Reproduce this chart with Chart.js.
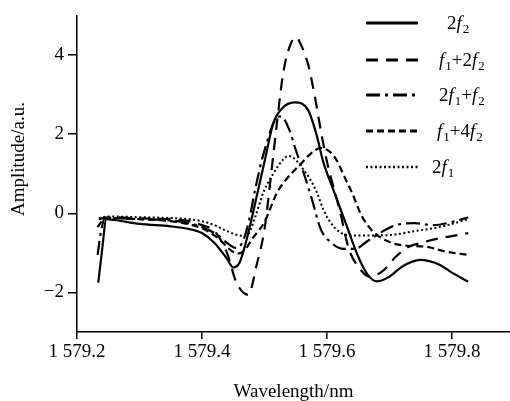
<!DOCTYPE html>
<html>
<head>
<meta charset="utf-8">
<script src="https://cdn.jsdelivr.net/npm/chart.js@4/dist/chart.umd.min.js"></script>
<style>
  html, body { margin: 0; padding: 0; background: #fff; }
  #wrap { width: 510px; height: 401px; }
</style>
</head>
<body>
<div id="wrap"><canvas id="chart" width="510" height="401"></canvas></div>
<script>
// tick labels
const xTicks = [1579.2, 1579.4, 1579.6, 1579.8];
const yTicks = [-2, 0, 2, 4];

// 2f2 (solid)
const wl2f2 = [1579.234, 1579.240, 1579.247, 1579.26, 1579.30, 1579.35, 1579.38, 1579.40, 1579.42, 1579.44, 1579.45, 1579.46, 1579.47, 1579.48, 1579.49, 1579.50, 1579.514, 1579.528, 1579.549, 1579.57, 1579.583, 1579.594, 1579.61, 1579.63, 1579.65, 1579.665, 1579.68, 1579.70, 1579.72, 1579.749, 1579.78, 1579.80, 1579.826];
const amp2f2 = [-1.75, -0.95, -0.15, -0.17, -0.27, -0.33, -0.40, -0.50, -0.75, -1.15, -1.37, -1.25, -0.75, -0.1, 0.6, 1.3, 2.27, 2.65, 2.8, 2.6, 2.0, 1.3, 0.6, -0.25, -1.1, -1.55, -1.72, -1.6, -1.35, -1.18, -1.3, -1.5, -1.73];

// f1+2f2 (long dash)
const wlF1p2f2 = [1579.235, 1579.25, 1579.30, 1579.35, 1579.38, 1579.40, 1579.42, 1579.44, 1579.455, 1579.474, 1579.4875, 1579.50, 1579.51, 1579.52, 1579.53, 1579.54, 1579.55, 1579.56, 1579.57, 1579.58, 1579.59, 1579.60, 1579.62, 1579.635, 1579.65, 1579.668, 1579.69, 1579.71, 1579.73, 1579.75, 1579.78, 1579.81, 1579.826];
const ampF1p2f2 = [-0.15, -0.1, -0.13, -0.15, -0.2, -0.3, -0.45, -1.0, -1.75, -2.06, -1.3, -0.4, 0.9, 2.3, 3.55, 4.2, 4.45, 4.2, 3.75, 3.0, 2.1, 1.3, 0.1, -0.9, -1.35, -1.6, -1.45, -1.1, -0.85, -0.75, -0.63, -0.55, -0.5];

// 2f1+f2 (dash-dot)
const wl2f1pf2 = [1579.233, 1579.238, 1579.245, 1579.30, 1579.35, 1579.38, 1579.40, 1579.425, 1579.44, 1579.455, 1579.465, 1579.475, 1579.485, 1579.495, 1579.505, 1579.515, 1579.526, 1579.54, 1579.55, 1579.56, 1579.575, 1579.59, 1579.605, 1579.627, 1579.645, 1579.665, 1579.69, 1579.71, 1579.74, 1579.77, 1579.80, 1579.826];
const amp2f1pf2 = [-1.05, -0.5, -0.12, -0.15, -0.18, -0.25, -0.35, -0.55, -0.75, -0.88, -0.72, -0.2, 0.6, 1.3, 1.85, 2.3, 2.45, 2.1, 1.6, 1.15, 0.4, -0.4, -0.72, -0.9, -0.9, -0.7, -0.45, -0.3, -0.25, -0.3, -0.22, -0.1];

// f1+4f2 (short dash)
const wlF1p4f2 = [1579.233, 1579.245, 1579.30, 1579.35, 1579.38, 1579.40, 1579.425, 1579.445, 1579.457, 1579.47, 1579.48, 1579.49, 1579.50, 1579.52, 1579.535, 1579.56, 1579.575, 1579.59, 1579.605, 1579.615, 1579.63, 1579.64, 1579.655, 1579.67, 1579.69, 1579.71, 1579.73, 1579.76, 1579.79, 1579.826];
const ampF1p4f2 = [-0.35, -0.12, -0.15, -0.2, -0.28, -0.38, -0.62, -0.92, -1.02, -0.9, -0.65, -0.45, -0.22, 0.52, 0.86, 1.28, 1.52, 1.65, 1.55, 1.35, 0.85, 0.52, -0.05, -0.4, -0.65, -0.78, -0.82, -0.85, -0.97, -1.05];

// 2f1 (dotted)
const wl2f1 = [1579.235, 1579.25, 1579.30, 1579.35, 1579.38, 1579.40, 1579.42, 1579.44, 1579.465, 1579.475, 1579.485, 1579.498, 1579.514, 1579.53, 1579.538, 1579.55, 1579.56, 1579.573, 1579.584, 1579.594, 1579.605, 1579.62, 1579.637, 1579.66, 1579.70, 1579.74, 1579.78, 1579.826];
const amp2f1 = [-0.12, -0.08, -0.1, -0.12, -0.15, -0.2, -0.3, -0.45, -0.57, -0.5, -0.1, 0.52, 1.0, 1.36, 1.45, 1.35, 1.15, 0.86, 0.52, 0.1, -0.22, -0.47, -0.56, -0.56, -0.55, -0.45, -0.35, -0.15];

const FONT = "'Liberation Serif', 'Times New Roman', serif";

const pts = (xs, ys) => xs.map((x, i) => ({ x: x, y: ys[i] }));

// legend: each label split in [text, style] parts (n normal, i italic, s subscript)
const series = [
  { wl: wl2f2, amp: amp2f2, dash: [], width: 2.2,
    label: [["2", "n"], ["f", "i"], ["2", "s"]], lx: 447 },
  { wl: wlF1p2f2, amp: ampF1p2f2, dash: [12, 8], width: 2.2,
    label: [["f", "i"], ["1", "s"], ["+2", "n"], ["f", "i"], ["2", "s"]], lx: 439 },
  { wl: wl2f1pf2, amp: amp2f1pf2, dash: [14, 5, 3, 5], width: 2.2,
    label: [["2", "n"], ["f", "i"], ["1", "s"], ["+", "n"], ["f", "i"], ["2", "s"]], lx: 439 },
  { wl: wlF1p4f2, amp: ampF1p4f2, dash: [7, 4], width: 2.2,
    label: [["f", "i"], ["1", "s"], ["+4", "n"], ["f", "i"], ["2", "s"]], lx: 437 },
  { wl: wl2f1, amp: amp2f1, dash: [2, 2.5], width: 2,
    label: [["2", "n"], ["f", "i"], ["1", "s"]], lx: 432 },
];
const legendRows = [23, 60, 95, 131, 167];

const legendPlugin = {
  id: "customLegend",
  afterDraw(chart) {
    const ctx = chart.ctx;
    ctx.save();
    series.forEach((s, i) => {
      const y = legendRows[i];
      ctx.strokeStyle = "#000";
      ctx.lineWidth = s.width + 0.6;
      ctx.setLineDash(s.dash);
      ctx.beginPath();
      ctx.moveTo(366, y);
      ctx.lineTo(418, y);
      ctx.stroke();
      ctx.setLineDash([]);
      let x = s.lx;
      ctx.fillStyle = "#000";
      ctx.textBaseline = "alphabetic";
      s.label.forEach(([t, st]) => {
        if (st === "i") ctx.font = "italic 19px " + FONT;
        else if (st === "s") ctx.font = "13px " + FONT;
        else ctx.font = "19px " + FONT;
        const by = st === "s" ? y + 10 : y + 6;
        ctx.fillText(t, x, by);
        x += ctx.measureText(t).width + (st === "i" ? 1 : 0);
      });
    });
    // y axis title, placed a bit above the plot centre as in the reference
    ctx.translate(19, 159);
    ctx.rotate(-Math.PI / 2);
    ctx.font = "19px " + FONT;
    ctx.textAlign = "center";
    ctx.textBaseline = "middle";
    ctx.fillText("Amplitude/a.u.", 0, 0);
    ctx.restore();
  },
};

const fmt = (v) => {
  const s = v.toFixed(1);
  return s.slice(0, 1) + " " + s.slice(1);
};

new Chart(document.getElementById("chart"), {
  type: "line",
  data: {
    datasets: series.map((s) => ({
      data: pts(s.wl, s.amp),
      borderColor: "#000",
      borderWidth: s.width,
      borderDash: s.dash,
      pointRadius: 0,
      fill: false,
      cubicInterpolationMode: "monotone",
    })),
  },
  options: {
    responsive: false,
    animation: false,
    devicePixelRatio: 1,
    layout: { padding: { top: 12, right: 0, left: 0, bottom: 0 } },
    plugins: { legend: { display: false }, tooltip: { enabled: false } },
    scales: {
      x: {
        type: "linear",
        min: 1579.2,
        max: 1579.2 + 433 / 625,
        afterBuildTicks: (sc) => { sc.ticks = xTicks.map((v) => ({ value: v })); },
        afterFit: (sc) => { sc.height = 69; },
        border: { display: true, color: "#000", width: 1.5 },
        grid: { drawOnChartArea: false, color: "#000", lineWidth: 1.5, tickLength: 7 },
        ticks: {
          color: "#000", font: { family: FONT, size: 19 }, padding: 2,
          maxRotation: 0, autoSkip: false,
          callback: (v) => fmt(v),
        },
        title: {
          display: true, text: "Wavelength/nm", color: "#000",
          font: { family: FONT, size: 19 }, padding: { top: 0, bottom: -2 },
        },
      },
      y: {
        min: -3,
        max: 5,
        afterBuildTicks: (sc) => { sc.ticks = yTicks.map((v) => ({ value: v })); },
        afterFit: (sc) => { sc.width = 77; },
        border: { display: true, color: "#000", width: 1.5 },
        grid: { drawOnChartArea: false, color: "#000", lineWidth: 1.5, tickLength: 9 },
        ticks: {
          color: "#000", font: { family: FONT, size: 19 }, padding: 4,
          callback: (v) => (v < 0 ? "\u2212" + Math.abs(v) : String(v)),
        },
      },
    },
  },
  plugins: [legendPlugin],
});
</script>
</body>
</html>
